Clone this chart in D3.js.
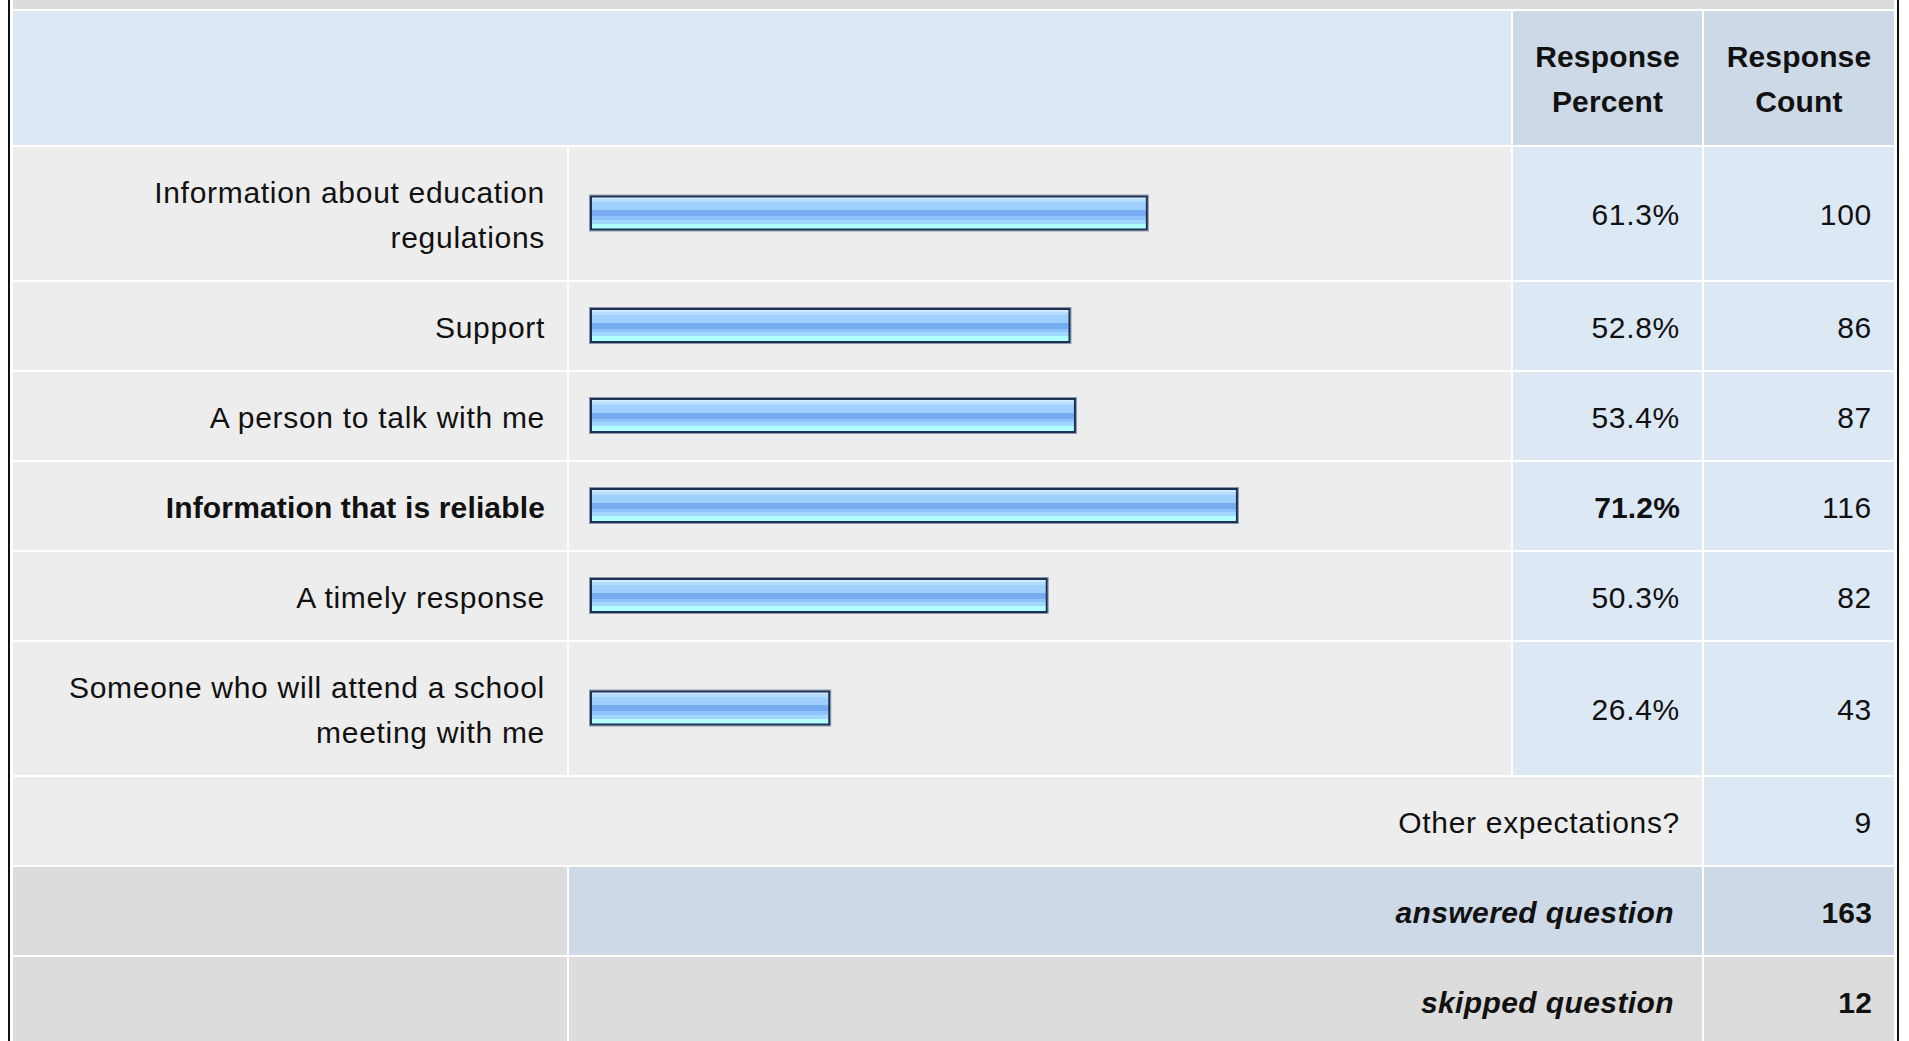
<!DOCTYPE html>
<html>
<head>
<meta charset="utf-8">
<script src="https://cdn.jsdelivr.net/npm/d3@7/dist/d3.min.js"></script>
<style>
	body { margin: 0; background: #fff; }
	svg text { font-family: "Liberation Sans", Arial, sans-serif; fill: #111; }
</style>
</head>
<body>
<div id="chart"></div>
<script>
// data
var labels = [
	"Information about education regulations",
	"Support",
	"A person to talk with me",
	"Information that is reliable",
	"A timely response",
	"Someone who will attend a school meeting with me"
]
var percents = [61.3, 52.8, 53.4, 71.2, 50.3, 26.4]
var counts = [100, 86, 87, 116, 82, 43]
var headers = [["Response", "Percent"], ["Response", "Count"]]
var otherLabel = "Other expectations?"
var otherCount = 9
var answeredLabel = "answered question"
var answeredCount = 163
var skippedLabel = "skipped question"
var skippedCount = 12
var boldIndex = 3 // highest percent is bold

var W = 1909, H = 1041
var fontSize = 30
var lineH = 45
var gap = 2

// column edges
var col = {
	label: [13, 567],
	bar: [569, 1511],
	pct: [1513, 1702],
	cnt: [1704, 1894]
}
var pad = 22

var grayL = "#ededed", grayD = "#dcdcdc", blueL = "#dde8f5", blueD = "#cdd9e6"

var svg = d3.select("#chart").append("svg")
	.attr("width", W)
	.attr("height", H)

var defs = svg.append("defs")
var grad = defs.append("linearGradient")
	.attr("id", "barGrad")
	.attr("x1", 0).attr("y1", 0).attr("x2", 0).attr("y2", 1)
var stops = [
	[0, "#d2eaff"], [0.08, "#d2eaff"], [0.08, "#b6dcff"], [0.18, "#b6dcff"],
	[0.18, "#9fd0ff"], [0.42, "#9fd0ff"], [0.42, "#78acf2"], [0.6, "#78acf2"],
	[0.6, "#8ec3fb"], [0.7, "#8ec3fb"], [0.7, "#a2d8ff"], [0.82, "#a2d8ff"],
	[0.82, "#b2ffff"], [1, "#b2ffff"]
]
grad.selectAll("stop").data(stops).enter().append("stop")
	.attr("offset", function(d) { return d[0]; })
	.attr("stop-color", function(d) { return d[1]; })

var x = d3.scaleLinear().domain([0, 100]).range([590, 1500])

// outer frame
svg.append("rect").attr("x", col.label[0]).attr("y", 0)
	.attr("width", col.cnt[1] - col.label[0]).attr("height", 9).attr("fill", grayD)
svg.append("rect").attr("x", 8).attr("y", 0).attr("width", 2).attr("height", H).attr("fill", "#111")
svg.append("rect").attr("x", 1897).attr("y", 0).attr("width", 2).attr("height", H).attr("fill", "#111")

function cell(x0, x1, y, h, fill) {
	svg.append("rect")
		.attr("x", x0).attr("y", y)
		.attr("width", x1 - x0).attr("height", h)
		.attr("fill", fill)
}

// reference text runs a bit wider than Liberation Sans
function spacing(weight, style) {
	if (style == "italic") return "0.4px"
	return weight == "bold" ? "0.15px" : "0.7px"
}

// split a label into lines that fit maxW
function wrap(str, maxW, weight) {
	var t = svg.append("text").style("font-size", fontSize + "px")
		.style("font-weight", weight).style("letter-spacing", spacing(weight))
	var words = str.split(" "), lines = [], cur = ""
	words.forEach(function(w) {
		var test = cur ? cur + " " + w : w
		t.text(test)
		if (t.node().getComputedTextLength() > maxW && cur) {
			lines.push(cur)
			cur = w
		} else {
			cur = test
		}
	})
	lines.push(cur)
	t.remove()
	return lines
}

function label(lines, xPos, cy, anchor, weight, style) {
	var n = lines.length
	weight = weight || "normal"
	var t = svg.append("text")
		.attr("text-anchor", anchor)
		.style("font-size", fontSize + "px")
		.style("font-weight", weight)
		.style("font-style", style || "normal")
		.style("letter-spacing", spacing(weight, style))
	lines.forEach(function(l, i) {
		t.append("tspan")
			.attr("x", xPos)
			.attr("y", cy + (i - (n - 1) / 2) * lineH + 11.5)
			.text(l)
	})
}

var y = 11

// header
var hh = 134
cell(col.label[0], col.bar[1], y, hh, blueL)
cell(col.pct[0], col.pct[1], y, hh, blueD)
cell(col.cnt[0], col.cnt[1], y, hh, blueD)
label(headers[0], (col.pct[0] + col.pct[1]) / 2, y + hh / 2, "middle", "bold")
label(headers[1], (col.cnt[0] + col.cnt[1]) / 2, y + hh / 2, "middle", "bold")
y += hh + gap

// answer rows
labels.forEach(function(d, i) {
	var weight = i == boldIndex ? "bold" : "normal"
	var lines = wrap(d, col.label[1] - col.label[0] - pad * 2 - 10, weight)
	var h = 43 + lineH * lines.length
	var cy = y + h / 2
	cell(col.label[0], col.label[1], y, h, grayL)
	cell(col.bar[0], col.bar[1], y, h, grayL)
	cell(col.pct[0], col.pct[1], y, h, blueL)
	cell(col.cnt[0], col.cnt[1], y, h, blueL)
	label(lines, col.label[1] - pad, cy, "end", weight)

	// bar
	var bw = x(percents[i]) - x(0)
	svg.append("rect")
		.attr("x", x(0) - 0.5).attr("y", cy - 18.5)
		.attr("width", bw + 1).attr("height", 36)
		.attr("fill", "none").attr("stroke", "#8a97ab").attr("stroke-width", 1)
	svg.append("rect")
		.attr("x", x(0) + 1).attr("y", cy - 17)
		.attr("width", bw - 2).attr("height", 33)
		.attr("fill", "url(#barGrad)")
		.attr("stroke", "#1b3256").attr("stroke-width", 2)

	label([percents[i].toFixed(1) + "%"], col.pct[1] - pad, cy, "end", weight)
	label([String(counts[i])], col.cnt[1] - pad, cy, "end")
	y += h + gap
})

// other
var h1 = 88
cell(col.label[0], col.pct[1], y, h1, grayL)
cell(col.cnt[0], col.cnt[1], y, h1, blueL)
label([otherLabel], col.pct[1] - pad, y + h1 / 2, "end")
label([String(otherCount)], col.cnt[1] - pad, y + h1 / 2, "end")
y += h1 + gap

// answered
cell(col.label[0], col.label[1], y, h1, grayD)
cell(col.bar[0], col.pct[1], y, h1, blueD)
cell(col.cnt[0], col.cnt[1], y, h1, blueD)
label([answeredLabel], col.pct[1] - pad - 6, y + h1 / 2, "end", "bold", "italic")
label([String(answeredCount)], col.cnt[1] - pad, y + h1 / 2, "end", "bold")
y += h1 + gap

// skipped
cell(col.label[0], col.label[1], y, h1, grayD)
cell(col.bar[0], col.pct[1], y, h1, grayD)
cell(col.cnt[0], col.cnt[1], y, h1, grayD)
label([skippedLabel], col.pct[1] - pad - 6, y + h1 / 2, "end", "bold", "italic")
label([String(skippedCount)], col.cnt[1] - pad, y + h1 / 2, "end", "bold")
</script>
</body>
</html>
